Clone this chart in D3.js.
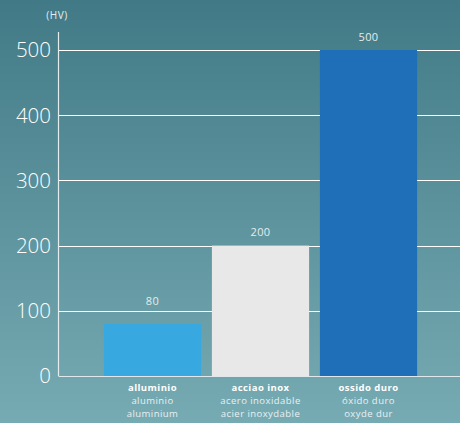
<!DOCTYPE html>
<html><head><meta charset="utf-8">
<script src="https://cdn.jsdelivr.net/npm/d3@7"></script>
<style>html,body{margin:0;padding:0;overflow:hidden}svg{display:block}</style>
</head><body>
<script>
const categories = ["alluminio", "acciaio inox", "ossido duro"];
const labelsBold = ["alluminio", "acciao inox", "ossido duro"];
const labelsEs = ["aluminio", "acero inoxidable", "óxido duro"];
const labelsFr = ["aluminium", "acier inoxydable", "oxyde dur"];
const values = [80, 200, 500];
const barColors = ["#38a8e0", "#e8e8e8", "#1f6fb8"];
const yTicks = [0, 100, 200, 300, 400, 500];
const unitLabel = "(HV)";

const W = 460, H = 423;
const svg = d3.select("body").append("svg").attr("width", W).attr("height", H);
const defs = svg.append("defs");
const g = defs.append("linearGradient").attr("id", "bg").attr("x1", 0).attr("y1", 0).attr("x2", 0).attr("y2", 1);
g.append("stop").attr("offset", "0%").attr("stop-color", "#417a86");
g.append("stop").attr("offset", "100%").attr("stop-color", "#77abb3");
svg.append("rect").attr("width", W).attr("height", H).attr("fill", "url(#bg)");

const x = d3.scaleBand().domain(categories).range([98.5, 422.5]).paddingInner(0.1).paddingOuter(0.05);
const y = d3.scaleLinear().domain([0, 500]).range([376, 50]);
const axisX = 58.5;
const sans = "'Open Sans', sans-serif";

// gridlines
svg.append("g").selectAll("line").data(yTicks).join("line")
  .attr("x1", axisX).attr("x2", W)
  .attr("y1", d => Math.round(y(d)) + 0.5).attr("y2", d => Math.round(y(d)) + 0.5)
  .attr("stroke", d => d === 0 ? "#dfe8ea" : "#ffffff").attr("stroke-width", 1.2);

// bars
svg.append("g").selectAll("rect").data(values).join("rect")
  .attr("x", (d, i) => x(categories[i]))
  .attr("width", x.bandwidth())
  .attr("y", d => y(d))
  .attr("height", d => y(0) - y(d))
  .attr("fill", (d, i) => barColors[i]);

// y axis line
svg.append("line").attr("x1", axisX).attr("x2", axisX).attr("y1", 32).attr("y2", 376)
  .attr("stroke", "#e4ecee").attr("stroke-width", 1.2);

// tick labels
svg.append("g").selectAll("text").data(yTicks).join("text")
  .attr("x", 51).attr("y", d => y(d)).attr("dy", "0.36em")
  .attr("text-anchor", "end")
  .attr("font-family", sans).attr("font-weight", 300)
  .attr("font-size", 20.5).attr("fill", "#ffffff")
  .text(d => d);

svg.append("text").attr("x", 57).attr("y", 19).attr("text-anchor", "middle")
  .attr("font-family", sans).attr("font-size", 10).attr("letter-spacing", 0.6).attr("fill", "#e6eef0")
  .text(unitLabel);

// value labels (kept above the next gridline for short bars)
svg.append("g").selectAll("text").data(values).join("text")
  .attr("x", (d, i) => x(categories[i]) + x.bandwidth() / 2)
  .attr("y", d => Math.min(y(d) - 13, y(Math.ceil(d / 100) * 100) - 10)).attr("dy", "0.35em")
  .attr("text-anchor", "middle")
  .attr("font-family", sans).attr("font-size", 11).attr("letter-spacing", 0.4).attr("fill", "#e4ecee")
  .text(d => d);

// category labels
const cl = svg.append("g").selectAll("g").data(categories).join("g")
  .attr("transform", d => `translate(${x(d) + x.bandwidth() / 2},0)`)
  .attr("font-family", sans).attr("text-anchor", "middle").attr("font-size", 9.5).attr("letter-spacing", 0.45);
cl.append("text").attr("y", 390.5).attr("font-weight", 700).attr("fill", "#ffffff").text((d, i) => labelsBold[i]);
cl.append("text").attr("y", 403.5).attr("fill", "#e8f0f2").text((d, i) => labelsEs[i]);
cl.append("text").attr("y", 416.5).attr("fill", "#e8f0f2").text((d, i) => labelsFr[i]);
</script>
</body></html>
